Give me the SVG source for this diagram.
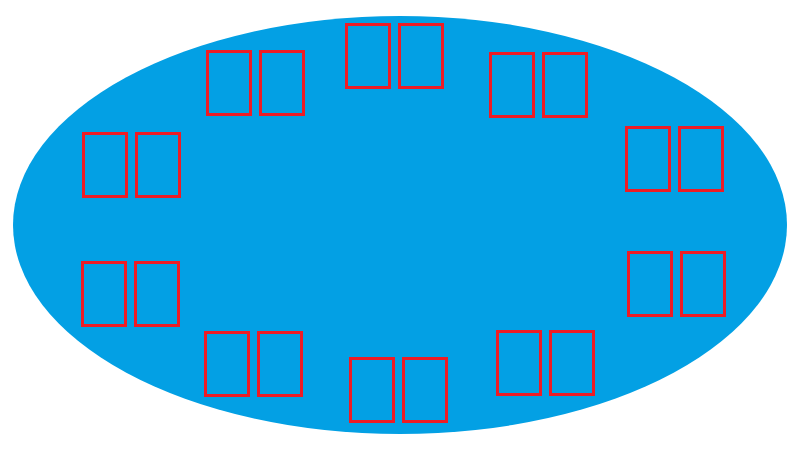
<svg xmlns="http://www.w3.org/2000/svg" width="800" height="450" viewBox="0 0 800 450">
<defs>
<style>
.box{fill:none;stroke:#ee1c25;stroke-width:3}
</style>
<g id="pair"><rect class="box" x="1.5" y="1.5" width="43" height="63"/><rect class="box" x="54.5" y="1.5" width="43" height="63"/></g>
</defs>
<rect width="800" height="450" fill="#ffffff"/>
<ellipse id="oval" cx="400" cy="225" rx="387" ry="209" fill="#03a0e4"/>
<g id="n1"><use href="#pair" x="345" y="23"/></g>
<g id="n2"><use href="#pair" x="206" y="50"/></g>
<g id="n3"><use href="#pair" x="489" y="52"/></g>
<g id="n4"><use href="#pair" x="82" y="132"/></g>
<g id="n5"><use href="#pair" x="625" y="126"/></g>
<g id="n6"><use href="#pair" x="81" y="261"/></g>
<g id="n7"><use href="#pair" x="627" y="251"/></g>
<g id="n8"><use href="#pair" x="204" y="331"/></g>
<g id="n9"><use href="#pair" x="349" y="357"/></g>
<g id="n10"><use href="#pair" x="496" y="330"/></g>
<g id="connectors"></g>
</svg>
